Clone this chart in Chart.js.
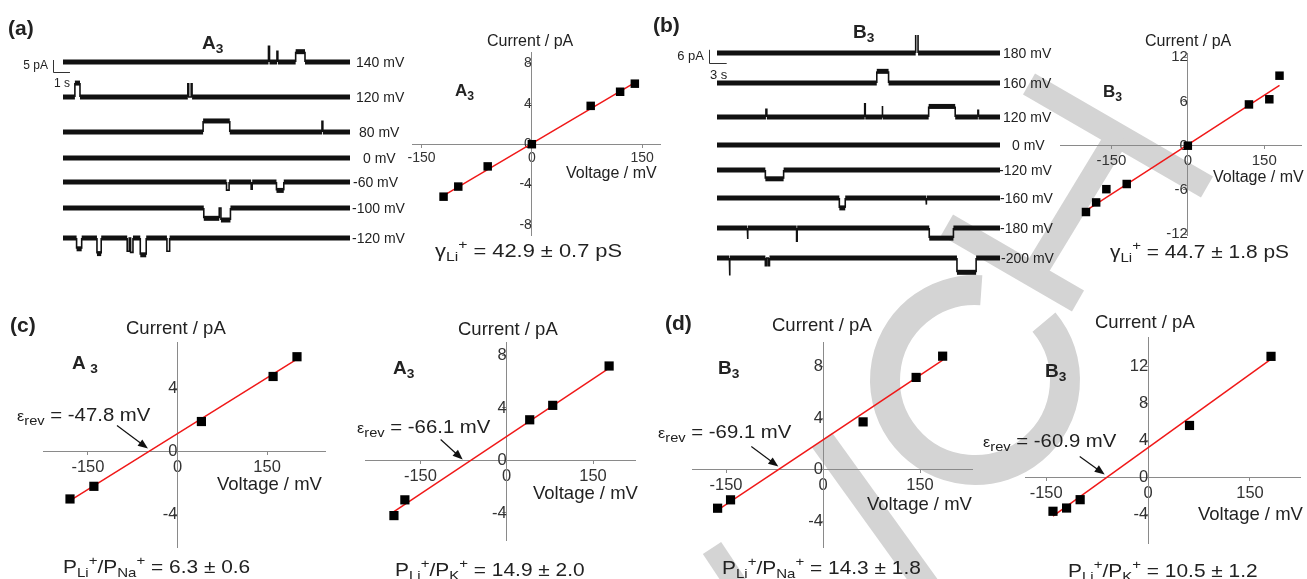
<!DOCTYPE html>
<html>
<head>
<meta charset="utf-8">
<script src="https://cdn.jsdelivr.net/npm/chart.js@4.4.1/dist/chart.umd.min.js"></script>
<style>
body { margin: 0; background: #fff; }
#fig { position: relative; width: 1307px; height: 579px; overflow: hidden; font-family: "Liberation Sans", Arial, sans-serif; }
#fig canvas { position: absolute; }
.t { position: absolute; white-space: nowrap; color: #222; line-height: 1; transform-origin: left center; }
.t sub { font-size: .72em; vertical-align: -.35em; line-height: 0; }
.t sup { font-size: .72em; vertical-align: .55em; line-height: 0; }
.t .eps { font-size: .8em; }
</style>
</head>
<body>
<div id="fig">
  <canvas id="wm" width="1307" height="579"></canvas>
</div>
<script>
// ---- (a) A3 single channel I-V, Li+ ----
const ivA_V = [-120, -100, -60, 0, 80, 120, 140];
const ivA_I = [-5.2, -4.2, -2.2, 0, 3.8, 5.2, 6.0];
const ivA_fitV = [-120, 140];
const ivA_fitI = [-5.1, 6.1];

// ---- (b) B3 single channel I-V, Li+ ----
const ivB_V = [-200, -180, -160, -120, 0, 120, 160, 180];
const ivB_I = [-9.0, -7.7, -5.9, -5.2, 0, 5.6, 6.3, 9.5];
const ivB_fitV = [-200, 180];
const ivB_fitI = [-8.8, 8.2];

// ---- (c) A3 bi-ionic ----
const ivC1_V = [-180, -140, 40, 160, 200];
const ivC1_I = [-3.0, -2.2, 1.9, 4.75, 6.0];
const ivC1_fitV = [-180, 200];
const ivC1_fitI = [-3.1, 5.85];

const ivC2_V = [-196, -177, 40, 80, 178];
const ivC2_I = [-4.2, -3.0, 3.1, 4.2, 7.2];
const ivC2_fitV = [-196, 180];
const ivC2_fitI = [-3.9, 7.1];

// ---- (d) B3 bi-ionic ----
const ivD1_V = [-163, -143, 62, 144, 185];
const ivD1_I = [-3.0, -2.35, 3.7, 7.15, 8.8];
const ivD1_fitV = [-163, 185];
const ivD1_fitI = [-3.15, 8.5];

const ivD2_V = [-140, -120, -100, 61, 181];
const ivD2_I = [-3.65, -3.3, -2.4, 5.6, 13.05];
const ivD2_fitV = [-140, 180];
const ivD2_fitI = [-4.18, 12.7];

const erev = [-47.8, -66.1, -69.1, -60.9];

// tick labels
const ticksV = [-150, 0, 150];
const ticksI_a = [-8, -4, 0, 4, 8];
const ticksI_b = [-12, -6, 0, 6, 12];
const ticksI_c1 = [-4, 0, 4];
const ticksI_c2 = [-4, 0, 4, 8];
const ticksI_d1 = [-4, 0, 4, 8];
const ticksI_d2 = [-4, 0, 4, 8, 12];

// ---- single channel traces: events [start s, end s, amplitude pA] ----
const tracesA_labels = ['140 mV', '120 mV', '80 mV', '0 mV', '-60 mV', '-100 mV', '-120 mV'];
const tracesA_events = [
  [[12.1, 12.16, 6.5], [12.6, 12.65, 4.5], [13.7, 14.25, 4.3]],
  [[0.7, 1.0, 5.8], [7.35, 7.4, 5.5], [7.55, 7.6, 5.5]],
  [[8.25, 9.82, 4.6], [15.25, 15.3, 4.5]],
  [],
  [[9.63, 9.78, -3.4], [11.08, 11.14, -3.0], [12.57, 13.0, -3.5]],
  [[8.29, 9.2, -4.3], [9.3, 9.86, -5.0]],
  [[0.8, 1.1, -4.5], [2.0, 2.25, -6.5], [3.78, 3.9, -5.5], [3.98, 4.12, -6], [4.55, 4.9, -7], [6.12, 6.28, -5.5]]
];
const tracesB_labels = ['180 mV', '160 mV', '120 mV', '0 mV', '-120 mV', '-160 mV', '-180 mV', '-200 mV'];
const tracesB_events = [
  [[33.7, 34.1, 9]],
  [[27.1, 29.1, 5.3]],
  [[8.3, 8.45, 3.5], [25.05, 25.15, 6], [28.0, 28.1, 5], [35.9, 40.4, 4.8], [44.25, 44.35, 3]],
  [],
  [[8.2, 11.3, -4]],
  [[20.75, 21.75, -4.5], [35.45, 35.55, -3]],
  [[5.15, 5.25, -5], [13.5, 13.6, -6], [36.0, 40.1, -4.6]],
  [[2.1, 2.2, -8], [8.2, 8.4, -3.5], [8.7, 8.9, -3.5], [40.7, 43.95, -6.5]]
];

// ---------------- layout ----------------
const FONT = '"Liberation Sans", Arial, sans-serif';
const fig = document.getElementById('fig');
const axisColor = '#8a8a8a';

function addCanvas(id, left, top, w, h) {
  const c = document.createElement('canvas');
  c.id = id; c.width = w; c.height = h;
  c.style.left = left + 'px'; c.style.top = top + 'px';
  fig.appendChild(c);
  return c;
}

// watermark (background decoration, big rotated grey letters)
(function drawWatermark() {
  const ctx = document.getElementById('wm').getContext('2d');
  ctx.strokeStyle = '#d4d4d4';
  ctx.lineCap = 'butt';
  const band = (x1, y1, x2, y2, w) => {
    ctx.lineWidth = w; ctx.beginPath(); ctx.moveTo(x1, y1); ctx.lineTo(x2, y2); ctx.stroke();
  };
  band(1029, 84, 1207, 187, 24);     // H right stem
  band(1118, 135, 1030, 280, 24);    // H crossbar
  band(947, 225, 1078, 301, 24);     // H left stem
  ctx.lineWidth = 30;
  ctx.beginPath();
  ctx.arc(975, 380, 90, -40 * Math.PI / 180, 274 * Math.PI / 180);
  ctx.stroke();
  band(822, 440, 930, 590, 25);
  band(712, 548, 740, 590, 22);
})();

function stepPoints(events, tEnd, offset) {
  const pts = [{ x: 0, y: offset }];
  events.forEach(([t0, t1, amp]) => {
    pts.push({ x: t0, y: offset }, { x: t0, y: offset + amp }, { x: t1, y: offset + amp }, { x: t1, y: offset });
  });
  pts.push({ x: tEnd, y: offset });
  return pts;
}

function makeTraces(cfg) {
  const [bl, bt, bw, bh] = cfg.box;
  const canvas = addCanvas(cfg.id, bl, bt, bw, bh);
  const a = cfg.area;
  const yMax = (a.bottom - a.top) / cfg.pxPerPA;
  const thin = cfg.tEnd * 0.012;
  const datasets = cfg.events.map((ev, i) => ({
    data: stepPoints(ev, cfg.tEnd, (a.bottom - cfg.rows[i]) / cfg.pxPerPA),
    borderColor: '#111',
    borderWidth: 5,
    pointRadius: 0,
    tension: 0,
    clip: false,
    borderCapStyle: 'butt',
    segment: {
      // transitions and brief spikes are thin, the noisy baseline/open levels are thick
      borderWidth: c => (c.p1.parsed.x - c.p0.parsed.x) < thin ? 1.6 : 5
    }
  }));
  const scaleBar = {
    id: 'scaleBar',
    afterDraw(chart) {
      const { ctx, scales: { x, y } } = chart;
      const sb = cfg.bar;
      const cx = sb.corner[0] - bl, cy = sb.corner[1] - bt;
      const hLen = x.getPixelForValue(sb.sec) - x.getPixelForValue(0);
      const vLen = y.getPixelForValue(0) - y.getPixelForValue(sb.pA);
      ctx.save();
      ctx.strokeStyle = '#333'; ctx.lineWidth = 1;
      ctx.beginPath();
      ctx.moveTo(cx + 0.5, cy - vLen); ctx.lineTo(cx + 0.5, cy + 0.5); ctx.lineTo(cx + hLen, cy + 0.5);
      ctx.stroke();
      ctx.fillStyle = '#222';
      ctx.font = sb.font + 'px ' + FONT;
      ctx.textBaseline = 'middle';
      ctx.textAlign = 'right';
      ctx.fillText(sb.pA + ' pA', cx - 5, cy - vLen / 2);
      ctx.textAlign = 'left';
      ctx.fillText(sb.sec + ' s', cx + 1, cy + 12);
      ctx.restore();
    }
  };
  new Chart(canvas, {
    type: 'line',
    data: { datasets },
    options: {
      responsive: false, animation: false, devicePixelRatio: 1,
      layout: { padding: { left: a.left - bl, right: bl + bw - a.right, top: a.top - bt, bottom: bt + bh - a.bottom } },
      plugins: { legend: { display: false }, tooltip: { enabled: false } },
      scales: {
        x: { type: 'linear', min: 0, max: cfg.tEnd, display: false },
        y: { type: 'linear', min: 0, max: yMax, display: false }
      }
    },
    plugins: [scaleBar]
  });
  cfg.labels.forEach((lab, i) => addText(lab, cfg.labelX[i], cfg.rows[i], 14));
}

function arrowPlugin(cfg) {
  return {
    id: 'erevArrow',
    afterDatasetsDraw(chart) {
      if (cfg.erev === undefined) return;
      const { ctx, scales: { x, y } } = chart;
      const tx = x.getPixelForValue(cfg.erev) + cfg.tip[0];
      const ty = y.getPixelForValue(0) + cfg.tip[1];
      const sx = tx + cfg.tail[0], sy = ty + cfg.tail[1];
      const ang = Math.atan2(ty - sy, tx - sx);
      ctx.save();
      ctx.strokeStyle = '#111'; ctx.fillStyle = '#111'; ctx.lineWidth = 1.2;
      ctx.beginPath(); ctx.moveTo(sx, sy); ctx.lineTo(tx - 6 * Math.cos(ang), ty - 6 * Math.sin(ang)); ctx.stroke();
      ctx.beginPath();
      ctx.moveTo(tx, ty);
      ctx.lineTo(tx - 10 * Math.cos(ang) + 4 * Math.sin(ang), ty - 10 * Math.sin(ang) - 4 * Math.cos(ang));
      ctx.lineTo(tx - 10 * Math.cos(ang) - 4 * Math.sin(ang), ty - 10 * Math.sin(ang) + 4 * Math.cos(ang));
      ctx.closePath(); ctx.fill();
      ctx.restore();
    }
  };
}

function makeIV(cfg) {
  const [bl, bt, bw, bh] = cfg.box;
  const canvas = addCanvas(cfg.id, bl, bt, bw, bh);
  const a = cfg.area;
  const pts = cfg.V.map((v, i) => ({ x: v, y: cfg.I[i] }));
  const fit = cfg.fitV.map((v, i) => ({ x: v, y: cfg.fitI[i] }));
  const tickFont = { size: cfg.font, family: FONT };
  new Chart(canvas, {
    type: 'scatter',
    data: {
      datasets: [
        { data: pts, pointStyle: 'rect', pointRadius: cfg.r, backgroundColor: '#000', borderColor: '#000', borderWidth: 0, clip: false },
        { data: fit, showLine: true, borderColor: '#f01818', borderWidth: 1.5, pointRadius: 0, clip: false }
      ]
    },
    options: {
      responsive: false, animation: false, devicePixelRatio: 1,
      layout: { padding: { left: a.left - bl, right: bl + bw - a.right, top: a.top - bt, bottom: bt + bh - a.bottom } },
      plugins: { legend: { display: false }, tooltip: { enabled: false } },
      scales: {
        x: {
          type: 'linear', min: cfg.xr[0], max: cfg.xr[1], position: { y: 0 },
          afterBuildTicks: s => { s.ticks = cfg.xTicks.map(v => ({ value: v })); },
          grid: { drawOnChartArea: false, drawTicks: true, tickLength: 3, color: axisColor },
          border: { color: axisColor, width: 1 },
          ticks: { font: tickFont, color: '#333', padding: 3, maxRotation: 0, autoSkip: false }
        },
        y: {
          type: 'linear', min: cfg.yr[0], max: cfg.yr[1], position: { x: 0 },
          afterBuildTicks: s => { s.ticks = cfg.yTicks.map(v => ({ value: v })); },
          grid: { drawOnChartArea: false, drawTicks: true, tickLength: 4, color: axisColor },
          border: { color: axisColor, width: 1 },
          ticks: { font: tickFont, color: '#333', padding: 3, autoSkip: false }
        }
      }
    },
    plugins: [arrowPlugin(cfg)]
  });
}

function addText(html, x, y, size, bold, sx) {
  const d = document.createElement('div');
  d.className = 't';
  d.innerHTML = html;
  d.style.left = x + 'px';
  d.style.top = y + 'px';
  d.style.fontSize = size + 'px';
  if (bold) d.style.fontWeight = 'bold';
  d.style.transform = 'translateY(-50%) scaleX(' + (sx || 1) + ')';
  fig.appendChild(d);
}

// ---- traces ----
makeTraces({
  id: 'trA', box: [0, 35, 356, 228], area: { left: 63, right: 350, top: 42, bottom: 258 },
  pxPerPA: 2.4, tEnd: 16.9, events: tracesA_events, labels: tracesA_labels,
  rows: [62, 97, 132, 158, 182, 208, 238],
  labelX: [356, 356, 359, 363, 353, 352, 352],
  bar: { corner: [53, 72], pA: 5, sec: 1, font: 12 }
});
makeTraces({
  id: 'trB', box: [660, 35, 342, 250], area: { left: 717, right: 1000, top: 40, bottom: 278 },
  pxPerPA: 2.2, tEnd: 48, events: tracesB_events, labels: tracesB_labels,
  rows: [53, 83, 117, 145, 170, 198, 228, 258],
  labelX: [1003, 1003, 1003, 1012, 999, 1000, 1000, 1001],
  bar: { corner: [709, 63], pA: 6, sec: 3, font: 13 }
});

// ---- I-V plots ----
makeIV({ id: 'ivA', box: [380, 40, 300, 215], area: { left: 412, right: 660, top: 52, bottom: 235 },
  xr: [-162.9, 174.2], yr: [-9.0, 9.14], xTicks: ticksV, yTicks: ticksI_a, font: 14, r: 6,
  V: ivA_V, I: ivA_I, fitV: ivA_fitV, fitI: ivA_fitI });
makeIV({ id: 'ivB', box: [1040, 40, 267, 215], area: { left: 1060, right: 1307, top: 53, bottom: 235 },
  xr: [-251, 222.2], yr: [-12.12, 12.58], xTicks: ticksV, yTicks: ticksI_b, font: 15, r: 6,
  V: ivB_V, I: ivB_I, fitV: ivB_fitV, fitI: ivB_fitI });
makeIV({ id: 'ivC1', box: [20, 330, 320, 230], area: { left: 43, right: 325, top: 340, bottom: 547 },
  xr: [-225.2, 246.9], yr: [-6.04, 6.875], xTicks: ticksV, yTicks: ticksI_c1, font: 16.5, r: 6.5,
  V: ivC1_V, I: ivC1_I, fitV: ivC1_fitV, fitI: ivC1_fitI, erev: erev[0], tip: [-1, -3], tail: [-31, -23] });
makeIV({ id: 'ivC2', box: [345, 330, 300, 225], area: { left: 365, right: 635, top: 342, bottom: 540 },
  xr: [-246.3, 223], yr: [-6.06, 8.96], xTicks: ticksV, yTicks: ticksI_c2, font: 16.5, r: 6.5,
  V: ivC2_V, I: ivC2_I, fitV: ivC2_fitV, fitI: ivC2_fitI, erev: erev[1], tip: [-6, -1], tail: [-22, -20] });
makeIV({ id: 'ivD1', box: [670, 330, 310, 230], area: { left: 692, right: 972, top: 340, bottom: 547 },
  xr: [-202.6, 230.4], yr: [-6.01, 9.83], xTicks: ticksV, yTicks: ticksI_d1, font: 16.5, r: 6.5,
  V: ivD1_V, I: ivD1_I, fitV: ivD1_fitV, fitI: ivD1_fitI, erev: erev[2], tip: [0, -3], tail: [-27, -20] });
makeIV({ id: 'ivD2', box: [1005, 325, 302, 235], area: { left: 1025, right: 1307, top: 335, bottom: 543 },
  xr: [-181.2, 224.4], yr: [-7.07, 15.04], xTicks: ticksV, yTicks: ticksI_d2, font: 16.5, r: 6.5,
  V: ivD2_V, I: ivD2_I, fitV: ivD2_fitV, fitI: ivD2_fitI, erev: erev[3], tip: [-2, -3], tail: [-25, -18] });

// ---- text ----
addText('(a)', 8, 27, 21, true);
addText('A<sub>3</sub>', 202, 42, 19, true);
addText('(b)', 653, 24, 21, true);
addText('B<sub>3</sub>', 853, 31, 19, true);
addText('(c)', 10, 324, 21, true);
addText('(d)', 665, 322, 21, true);

addText('Current / pA', 487, 41, 16);
addText('Voltage / mV', 566, 173, 16);
addText('A<sub>3</sub>', 455, 90, 17, true);
addText('γ<sub>Li</sub><sup>+</sup> = 42.9 ± 0.7 pS', 435, 250, 19, false, 1.15);

addText('Current / pA', 1145, 41, 16);
addText('Voltage / mV', 1213, 177, 16);
addText('B<sub>3</sub>', 1103, 91, 17, true);
addText('γ<sub>Li</sub><sup>+</sup> = 44.7 ± 1.8 pS', 1110, 251, 19, false, 1.1);

addText('Current / pA', 126, 328, 18.5);
addText('Voltage / mV', 217, 484, 18.5);
addText('A <sub>3</sub>', 72, 362, 19, true);
addText('<span class="eps">ε</span><sub>rev</sub> = ' + erev[0] + ' mV', 17, 415, 18.5, false, 1.1);
addText('P<sub>Li</sub><sup>+</sup>/P<sub>Na</sub><sup>+</sup> = 6.3 ± 0.6', 63, 566, 19, false, 1.1);

addText('Current / pA', 458, 329, 18.5);
addText('Voltage / mV', 533, 493, 18.5);
addText('A<sub>3</sub>', 393, 367, 19, true);
addText('<span class="eps">ε</span><sub>rev</sub> = ' + erev[1] + ' mV', 357, 427, 18.5, false, 1.1);
addText('P<sub>Li</sub><sup>+</sup>/P<sub>K</sub><sup>+</sup> = 14.9 ± 2.0', 395, 569, 19, false, 1.1);

addText('Current / pA', 772, 325, 18.5);
addText('Voltage / mV', 867, 504, 18.5);
addText('B<sub>3</sub>', 718, 367, 19, true);
addText('<span class="eps">ε</span><sub>rev</sub> = ' + erev[2] + ' mV', 658, 432, 18.5, false, 1.1);
addText('P<sub>Li</sub><sup>+</sup>/P<sub>Na</sub><sup>+</sup> = 14.3 ± 1.8', 722, 567, 19, false, 1.1);

addText('Current / pA', 1095, 322, 18.5);
addText('Voltage / mV', 1198, 514, 18.5);
addText('B<sub>3</sub>', 1045, 370, 19, true);
addText('<span class="eps">ε</span><sub>rev</sub> = ' + erev[3] + ' mV', 983, 441, 18.5, false, 1.1);
addText('P<sub>Li</sub><sup>+</sup>/P<sub>K</sub><sup>+</sup> = 10.5 ± 1.2', 1068, 570, 19, false, 1.1);
</script>
</body>
</html>
